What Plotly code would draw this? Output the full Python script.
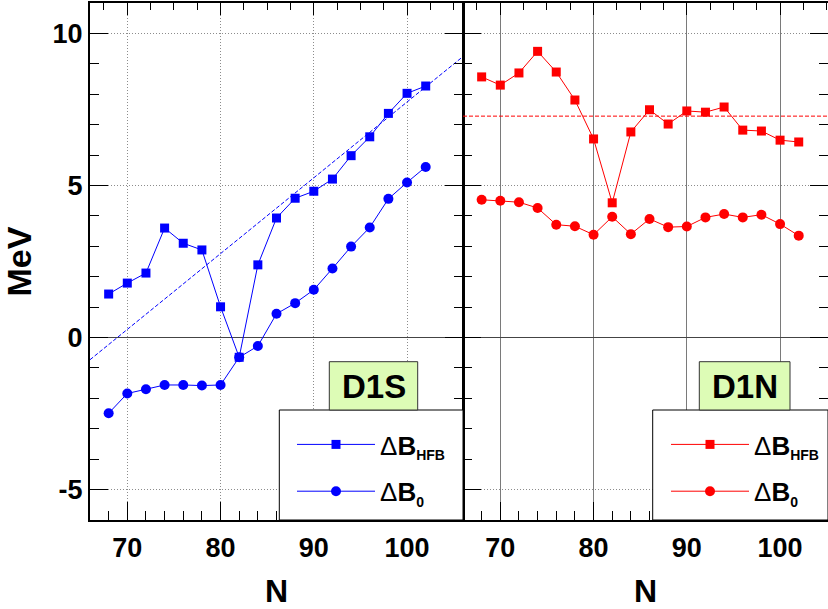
import plotly.graph_objects as go

# ---------------- data ----------------
N = [68, 70, 72, 74, 76, 78, 80, 82, 84, 86, 88, 90, 92, 94, 96, 98, 100, 102]

d1s_hfb = [1.43, 1.79, 2.12, 3.60, 3.10, 2.88, 1.01, -0.65, 2.39, 3.93, 4.58, 4.81,
           5.21, 5.98, 6.60, 7.37, 8.03, 8.27]
d1s_b0 = [-2.49, -1.84, -1.70, -1.56, -1.56, -1.58, -1.56, -0.65, -0.28, 0.78, 1.13, 1.57,
          2.27, 2.99, 3.62, 4.56, 5.10, 5.61]

d1n_hfb = [8.57, 8.30, 8.70, 9.41, 8.73, 7.81, 6.53, 4.43, 6.76, 7.49, 7.02, 7.45,
           7.41, 7.58, 6.82, 6.79, 6.49, 6.43]
d1n_b0 = [4.53, 4.50, 4.45, 4.26, 3.71, 3.66, 3.38, 3.97, 3.40, 3.90, 3.63, 3.65,
          3.95, 4.06, 3.95, 4.04, 3.73, 3.35]

# straight reference lines (dashed)
d1s_fit_N = [66, 106]
d1s_fit = [-0.73, 9.24]
d1n_fit_N = [66, 105.14]
d1n_fit = [7.28, 7.28]

x_ticks = [70, 80, 90, 100]
y_ticks = [-5, 0, 5, 10]
y_ticklabels = ["-5", "0", "5", "10"]

panel_labels = ["D1S", "D1N"]
name_hfb = "Δ<b>B<sub><span style='font-size:14px'>HFB</span></sub></b>"
name_b0 = "Δ<b>B<sub><span style='font-size:14px'>0</span></sub></b>"

# ---------------- geometry ----------------
W, H = 828, 609
ML, MR, MT, MB = 90, 0, 3, 89
PW = W - ML - MR
PH = H - MT - MB
split = 373 / PW

FONT = "Liberation Sans, Arial, Helvetica, sans-serif"
BLUE = "#0000ff"
RED = "#ff0000"
GRID_DOT = "#8c8c8c"


def px_x(p):
    return (p - ML) / PW


def px_y(p):
    return 1 - (p - MT) / PH


fig = go.Figure()

# left panel (D1S)
fig.add_trace(go.Scatter(x=d1s_fit_N, y=d1s_fit, mode="lines", xaxis="x", yaxis="y",
                         line=dict(color=BLUE, width=1, dash="4px,2px"), showlegend=False,
                         hoverinfo="skip"))
fig.add_trace(go.Scatter(x=N, y=d1s_hfb, mode="lines+markers", name=name_hfb, xaxis="x", yaxis="y",
                         line=dict(color=BLUE, width=1), marker=dict(symbol="square", size=9, color=BLUE),
                         legend="legend", legendgroup="a"))
fig.add_trace(go.Scatter(x=N, y=d1s_b0, mode="lines+markers", name=name_b0, xaxis="x", yaxis="y",
                         line=dict(color=BLUE, width=1), marker=dict(symbol="circle", size=10, color=BLUE),
                         legend="legend", legendgroup="b"))

# right panel (D1N)
fig.add_trace(go.Scatter(x=d1n_fit_N, y=d1n_fit, mode="lines", xaxis="x2", yaxis="y2",
                         line=dict(color=RED, width=1, dash="4px,2px"), showlegend=False,
                         hoverinfo="skip"))
fig.add_trace(go.Scatter(x=N, y=d1n_hfb, mode="lines+markers", name=name_hfb, xaxis="x2", yaxis="y2",
                         line=dict(color=RED, width=1), marker=dict(symbol="square", size=9, color=RED),
                         legend="legend2", legendgroup="c"))
fig.add_trace(go.Scatter(x=N, y=d1n_b0, mode="lines+markers", name=name_b0, xaxis="x2", yaxis="y2",
                         line=dict(color=RED, width=1), marker=dict(symbol="circle", size=10, color=RED),
                         legend="legend2", legendgroup="d"))

# empty traces so top tick axes are drawn
fig.add_trace(go.Scatter(x=[], y=[], xaxis="x3", yaxis="y", showlegend=False))
fig.add_trace(go.Scatter(x=[], y=[], xaxis="x4", yaxis="y2", showlegend=False))

tickfont = dict(family=FONT, size=27, color="black", weight="bold")
titlefont = dict(family=FONT, size=32, color="black", weight="bold")

common_x = dict(tickmode="array", tickvals=x_ticks, ticks="inside", ticklen=18, tickwidth=1,
                tickcolor="black", tickfont=tickfont, showline=True, linecolor="black", linewidth=2,
                zeroline=False, automargin=False, ticklabelstandoff=3,
                minor=dict(ticks="inside", ticklen=9, tickwidth=1, tickcolor="black", dtick=2, tick0=0,
                           showgrid=False))
common_y = dict(range=[-6, 11], tickmode="array", tickvals=y_ticks, ticktext=y_ticklabels,
                ticks="inside", ticklen=18, tickwidth=1, tickcolor="black", tickfont=tickfont,
                showline=True, linecolor="black", mirror="ticks",
                showgrid=True, gridcolor=GRID_DOT, griddash="1px,2px", gridwidth=1,
                zeroline=True, zerolinecolor="#444444", zerolinewidth=1, automargin=False,
                minor=dict(ticks="inside", ticklen=9, tickwidth=1, tickcolor="black", dtick=1, tick0=0,
                           showgrid=False))
top_x = dict(side="top", tickmode="array", tickvals=x_ticks, ticks="inside", ticklen=12, tickwidth=1,
             tickcolor="black", showticklabels=False, showgrid=False, zeroline=False,
             showline=True, linecolor="black", linewidth=2, automargin=False,
             minor=dict(ticks="inside", ticklen=7, tickwidth=1, tickcolor="black", dtick=2.5, tick0=0,
                        showgrid=False))

legend_common = dict(xanchor="left", yanchor="top", bgcolor="rgba(0,0,0,0)", borderwidth=0,
                     itemwidth=78, traceorder="grouped", tracegroupgap=10,
                     font=dict(family=FONT, size=26, color="black"))

fig.update_layout(
    width=W, height=H,
    margin=dict(l=ML, r=MR, t=MT, b=MB, autoexpand=False),
    paper_bgcolor="white", plot_bgcolor="white",
    font=dict(family=FONT, color="black"),
    xaxis=dict(domain=[0, split], range=[66, 106], anchor="y",
               showgrid=True, gridcolor=GRID_DOT, griddash="1px,2px", gridwidth=1,
               title=dict(text="N", font=titlefont, standoff=22),
               **common_x),
    xaxis2=dict(domain=[split, 1], range=[66, 105.14], anchor="y2",
                showgrid=True, gridcolor="#7a7a7a", gridwidth=1,
                title=dict(text="N", font=titlefont, standoff=22),
                **common_x),
    xaxis3=dict(overlaying="x", range=[66, 106], anchor="y", **top_x),
    xaxis4=dict(overlaying="x2", range=[66, 105.14], anchor="y2", **top_x),
    yaxis=dict(domain=[0, 1], anchor="x", linewidth=2,
               title=dict(text="MeV", font=dict(family=FONT, size=34, color="black", weight="bold"),
                          standoff=12),
               **common_y),
    yaxis2=dict(domain=[0, 1], anchor="x2", showticklabels=False, linewidth=1, **common_y),
    legend=dict(x=px_x(292), y=px_y(421), **legend_common),
    legend2=dict(x=px_x(666), y=px_y(421), **legend_common),
    showlegend=True,
)

# legend boxes and panel label boxes
boxes = [
    # (legend box x0, x1, label box x0, x1, label)
    (279.3, 463, 329.3, 417.7, panel_labels[0]),
    (652.7, 828, 699.3, 790, panel_labels[1]),
]
for lx0, lx1, bx0, bx1, lab in boxes:
    fig.add_shape(type="rect", xref="paper", yref="paper",
                  x0=px_x(lx0), x1=px_x(lx1), y0=px_y(520), y1=px_y(410),
                  fillcolor="white", line=dict(color="black", width=1), layer="above")
    fig.add_shape(type="rect", xref="paper", yref="paper",
                  x0=px_x(bx0), x1=px_x(bx1), y0=px_y(410), y1=px_y(361.7),
                  fillcolor="#ddfcb6", line=dict(color="#333333", width=1), layer="above")
    fig.add_annotation(xref="paper", yref="paper", x=px_x((bx0 + bx1) / 2), y=px_y(386),
                       text="<b>%s</b>" % lab, showarrow=False, xanchor="center", yanchor="middle",
                       font=dict(family=FONT, size=33, color="black"))

fig.write_html("out.html", config={"displayModeBar": False},
               post_script="document.body.style.margin='0px';")
